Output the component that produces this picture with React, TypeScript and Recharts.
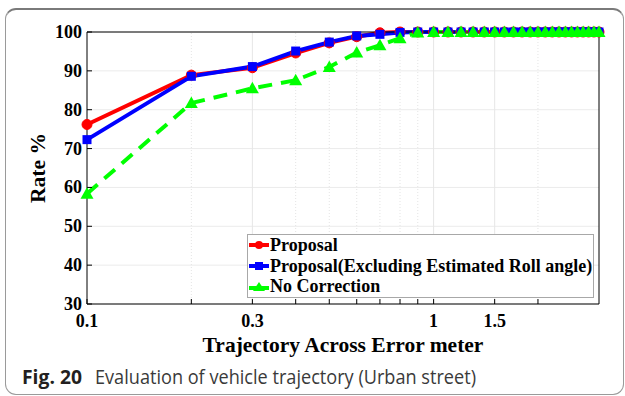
import { LineChart, Line, XAxis, YAxis, CartesianGrid, ReferenceLine, Legend, Label } from 'recharts'

// error thresholds (m) on the log axis
const errorMeters = [
  0.1, 0.2, 0.3, 0.4, 0.5, 0.6, 0.7, 0.8, 0.9, 1.0,
  1.1, 1.2, 1.3, 1.4, 1.5, 1.6, 1.7, 1.8, 1.9, 2.0,
  2.1, 2.2, 2.3, 2.4, 2.5, 2.6, 2.7, 2.8, 2.9, 3.0,
]

// rate (%) of trajectory points within each threshold
const proposal = [
  76.2, 88.9, 90.8, 94.6, 97.2, 98.8, 99.8, 100, 100, 100,
  100, 100, 100, 100, 100, 100, 100, 100, 100, 100,
  100, 100, 100, 100, 100, 100, 100, 100, 100, 100,
]
const proposalNoRoll = [
  72.3, 88.6, 91.1, 95.1, 97.4, 99.0, 99.4, 99.9, 100, 100,
  100, 100, 100, 100, 100, 100, 100, 100, 100, 100,
  100, 100, 100, 100, 100, 100, 100, 100, 100, 100,
]
const noCorrection = [
  58.4, 81.7, 85.5, 87.6, 91.0, 94.7, 96.6, 98.4, 99.9, 100,
  100, 100, 100, 100, 100, 100, 100, 100, 100, 100,
  100, 100, 100, 100, 100, 100, 100, 100, 100, 100,
]

const xLabelTicks = [0.1, 0.3, 1, 1.5]
const xMinorTicks = [0.2, 0.4, 0.5, 0.6, 0.7, 0.8, 0.9, 2]
const yTicks = [30, 40, 50, 60, 70, 80, 90, 100]

const seriesNames = ['Proposal', 'Proposal(Excluding Estimated Roll angle)', 'No Correction']

const data = errorMeters.map((x, i) => ({
  x,
  proposal: proposal[i],
  noRoll: proposalNoRoll[i],
  none: noCorrection[i],
}))

const allXTicks = [...xLabelTicks, ...xMinorTicks].sort((a, b) => a - b)

const SERIF = "'Liberation Serif', 'Times New Roman', serif"
const RED = '#ff0000'
const BLUE = '#0000ff'
const GREEN = '#00ff00'

const circleDot = (p: any) => (
  <circle key={`c-${p.index}`} cx={p.cx} cy={p.cy} r={5} fill={RED} stroke={RED} />
)
const squareDot = (p: any) => (
  <rect key={`s-${p.index}`} x={p.cx - 4.5} y={p.cy - 4.5} width={9} height={9} fill={BLUE} />
)
const triangleDot = (p: any) => (
  <polygon
    key={`t-${p.index}`}
    points={`${p.cx},${p.cy - 6.5} ${p.cx - 6.5},${p.cy + 5} ${p.cx + 6.5},${p.cy + 5}`}
    fill={GREEN}
  />
)

const XTick = (props: any) => {
  const { x, y, payload } = props
  if (!xLabelTicks.includes(payload.value)) return <g />
  return (
    <text x={x} y={y + 23} textAnchor="middle" fontFamily={SERIF} fontWeight="bold" fontSize={18} fill="#000">
      {payload.value}
    </text>
  )
}

const YTick = (props: any) => {
  const { x, y, payload } = props
  return (
    <text x={x} y={y + 6} textAnchor="end" fontFamily={SERIF} fontWeight="bold" fontSize={18} fill="#000">
      {payload.value}
    </text>
  )
}

const XTitle = (props: any) => {
  const { viewBox } = props
  return (
    <text
      x={viewBox.x + viewBox.width / 2}
      y={viewBox.y + 48}
      textAnchor="middle"
      fontFamily={SERIF}
      fontWeight="bold"
      fontSize={21.5}
      fill="#000"
    >
      Trajectory Across Error meter
    </text>
  )
}

const YTitle = (props: any) => {
  const { viewBox } = props
  const cx = 45
  const cy = viewBox.y + viewBox.height / 2
  return (
    <text
      x={cx}
      y={cy}
      transform={`rotate(-90, ${cx}, ${cy})`}
      textAnchor="middle"
      fontFamily={SERIF}
      fontWeight="bold"
      fontSize={21.5}
      fill="#000"
    >
      Rate %
    </text>
  )
}

const legendIcon = (i: number) => {
  if (i === 0)
    return (
      <svg width={22} height={14}>
        <line x1={1} y1={7} x2={21} y2={7} stroke={RED} strokeWidth={4} />
        <circle cx={11} cy={7} r={4} fill={RED} />
      </svg>
    )
  if (i === 1)
    return (
      <svg width={22} height={14}>
        <line x1={1} y1={7} x2={21} y2={7} stroke={BLUE} strokeWidth={4} />
        <rect x={7} y={3} width={8} height={8} fill={BLUE} />
      </svg>
    )
  return (
    <svg width={22} height={14}>
      <line x1={1} y1={8} x2={21} y2={8} stroke={GREEN} strokeWidth={4} />
      <polygon points="11,2 5,11 17,11" fill={GREEN} />
    </svg>
  )
}

const renderLegend = () => (
  <div
    style={{
      border: '1px solid #a8a8a8',
      background: '#fff',
      width: 347,
      height: 64,
      boxSizing: 'border-box',
      fontFamily: SERIF,
      fontWeight: 'bold',
      fontSize: 18,
      color: '#000',
    }}
  >
    {seriesNames.map((name, i) => (
      <div key={name} style={{ display: 'flex', alignItems: 'center', height: 20.7, lineHeight: '20.7px' }}>
        {legendIcon(i)}
        <span style={{ whiteSpace: 'nowrap' }}>{name}</span>
      </div>
    ))}
  </div>
)

export default function App() {
  return (
    <div style={{ position: 'absolute', left: 0, top: 0, width: 625, height: 396, background: '#fff', overflow: 'hidden' }}>
      <div
        style={{
          position: 'absolute',
          left: 5,
          top: 8,
          width: 619,
          height: 387,
          boxSizing: 'border-box',
          border: '1px solid #9a9a9a',
          borderTop: '2px solid #7a7a7a',
          borderRadius: 11,
        }}
      />
      <div style={{ position: 'absolute', left: 0, top: 0 }}>
        <LineChart
          width={625}
          height={396}
          data={data}
          margin={{ top: 31, right: 25, bottom: 0, left: 0 }}
          style={{ fontFamily: SERIF }}
        >
          <CartesianGrid vertical={false} stroke="#ebebeb" strokeWidth={1} />
          {xMinorTicks.map((v) => (
            <ReferenceLine key={`m-${v}`} x={v} stroke="#e4e4e4" strokeDasharray="1 2" />
          ))}
          {xLabelTicks.slice(1).map((v) => (
            <ReferenceLine key={`M-${v}`} x={v} stroke="#e6e6e6" />
          ))}
          <XAxis
            dataKey="x"
            type="number"
            scale="log"
            domain={[0.1, 3]}
            ticks={allXTicks}
            interval={0}
            height={92}
            stroke="#000"
            tickSize={-5}
            tickMargin={5}
            tick={<XTick />}
          >
            <Label content={<XTitle />} />
          </XAxis>
          <XAxis
            xAxisId="top"
            orientation="top"
            dataKey="x"
            type="number"
            scale="log"
            domain={[0.1, 3]}
            ticks={allXTicks}
            interval={0}
            height={1}
            stroke="#000"
            tickSize={-5}
            tick={false}
          />
          <YAxis
            domain={[30, 100]}
            ticks={yTicks}
            interval={0}
            width={87}
            stroke="#000"
            tickSize={-5}
            tickMargin={10}
            tick={<YTick />}
          >
            <Label content={<YTitle />} />
          </YAxis>
          <YAxis
            yAxisId="right"
            orientation="right"
            domain={[30, 100]}
            ticks={yTicks}
            interval={0}
            width={1}
            stroke="#000"
            tickSize={-5}
            tick={false}
          />
          <Legend
            layout="vertical"
            align="center"
            verticalAlign="middle"
            content={renderLegend}
            wrapperStyle={{ left: 247, top: 234, width: 347, height: 64 }}
          />
          <Line
            dataKey="proposal"
            name={seriesNames[0]}
            stroke={RED}
            strokeWidth={4}
            dot={circleDot}
            activeDot={false}
            isAnimationActive={false}
          />
          <Line
            dataKey="noRoll"
            name={seriesNames[1]}
            stroke={BLUE}
            strokeWidth={4}
            dot={squareDot}
            activeDot={false}
            isAnimationActive={false}
          />
          <Line
            dataKey="none"
            name={seriesNames[2]}
            stroke={GREEN}
            strokeWidth={4}
            strokeDasharray="14 9"
            dot={triangleDot}
            activeDot={false}
            isAnimationActive={false}
          />
        </LineChart>
      </div>
      <svg width={625} height={396} style={{ position: 'absolute', left: 0, top: 0, pointerEvents: 'none' }}>
        <text x={22} y={384} fontFamily="'Open Sans', 'Noto Sans', sans-serif" fontWeight="bold" fontSize={20} fill="#231f20" textLength={60} lengthAdjust="spacingAndGlyphs">
          Fig. 20
        </text>
        <text x={95} y={384} fontFamily="'Open Sans', 'Noto Sans', sans-serif" fontSize={20} fill="#3a3a3a" textLength={381} lengthAdjust="spacingAndGlyphs">
          Evaluation of vehicle trajectory (Urban street)
        </text>
      </svg>
    </div>
  )
}
